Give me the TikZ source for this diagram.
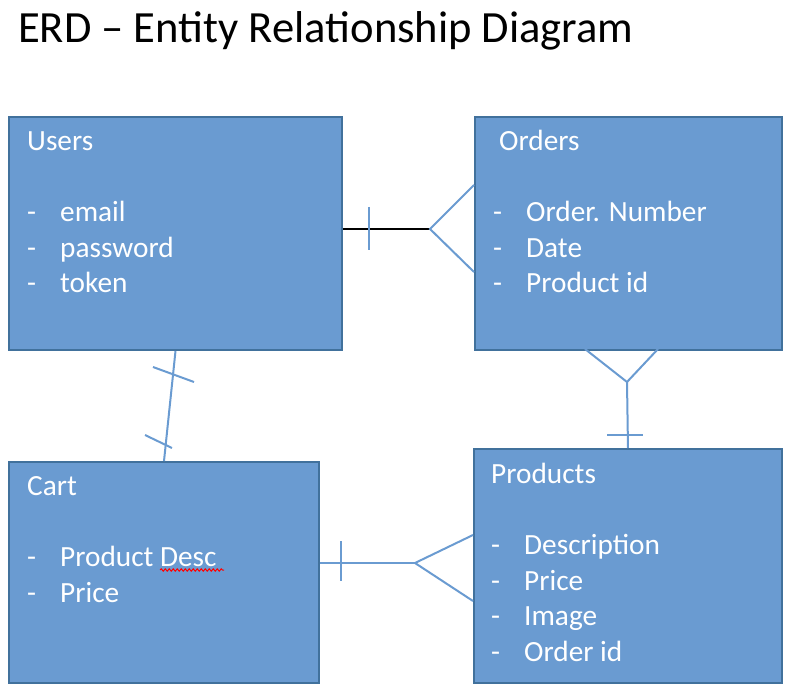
\documentclass[tikz,border=0pt]{standalone}
\usepackage{fontspec}
\setmainfont{Carlito}
\usepackage[HTML]{xcolor}
\usetikzlibrary{positioning, decorations.pathmorphing}

\definecolor{boxfill}{HTML}{6A9BD1}
\definecolor{boxline}{HTML}{41719C}
\definecolor{relline}{HTML}{6A9BD1}

\tikzset{
  entity/.style={draw=boxline, line width=2pt, fill=boxfill, anchor=north west, inner sep=0pt},
  attrs/.style={text=white, align=left, anchor=base west, inner sep=0pt, font=\fontsize{29.3}{35.5}\selectfont},
  rel/.style={draw=relline, line width=2pt},
  tick/.style={draw=relline, line width=2pt},
}
\newcommand{\attr}[1]{\makebox[33pt][l]{-}#1}

\begin{document}
\begin{tikzpicture}[x=1pt, y=-1pt]
    \useasboundingbox (0,0) rectangle (790,692);

    % Title
    \node[anchor=base west, inner sep=0pt, font=\fontsize{44.6}{52}\selectfont] (title) at (18,43) {ERD – Entity Relationship Diagram};

    % Define entities
    \node[entity, minimum width=333pt, minimum height=233pt] (users) at (8,116) {};
    \node[entity, minimum width=307pt, minimum height=233pt] (orders) at (474,116) {};
    \node[entity, minimum width=310pt, minimum height=221pt] (cart) at (8,461) {};
    \node[entity, minimum width=308pt, minimum height=234pt] (products) at (473,448) {};

    % Attributes (placed by the baseline of the last line)
    \node[attrs] (users text) at (27,293) {Users\\[35.5pt]\attr{email}\\\attr{password}\\\attr{token}};
    \node[attrs] (orders text) at (493,293) {\hspace{6pt}Orders\\[35.5pt]\attr{Order. Number}\\\attr{Date}\\\attr{Product id}};
    \node[attrs] (cart text) at (27,602) {Cart\\[35.5pt]\attr{Product Desc}\\\attr{Price}};
    \node[attrs] (products text) at (491,661) {Products\\[35.5pt]\attr{Description}\\\attr{Price}\\\attr{Image}\\\attr{Order id}};

    % Spelling mark
    \draw[red, line width=1pt, decorate, decoration={snake, segment length=4pt, amplitude=1.2pt}] (160,570) -- (224,570);

    % Users -- Orders
    \coordinate (uo) at (430,229);
    \draw[black, line width=2pt] (users.east |- uo) -- (uo);
    \draw[rel] (orders.west |- 0,185) -- (uo) -- (orders.west |- 0,272);
    \draw[tick] (369,207) -- (369,250);

    % Users -- Cart
    \draw[rel] (users.south) -- (cart.north);
    \draw[tick] (153,367) -- (194,382);
    \draw[tick] (145,435) -- (172,448);

    % Orders -- Products
    \coordinate (op) at (627,382);
    \draw[rel] (585,349) -- (op) -- (658,349);
    \draw[rel] (op) -- (products.north);
    \draw[tick] (607,435) -- (643,435);

    % Cart -- Products
    \coordinate (cp) at (415,563);
    \draw[rel] (cart.east |- cp) -- (cp);
    \draw[rel] (products.west |- 0,535) -- (cp) -- (products.west |- 0,601);
    \draw[tick] (341,541) -- (341,581);
\end{tikzpicture}
\end{document}
